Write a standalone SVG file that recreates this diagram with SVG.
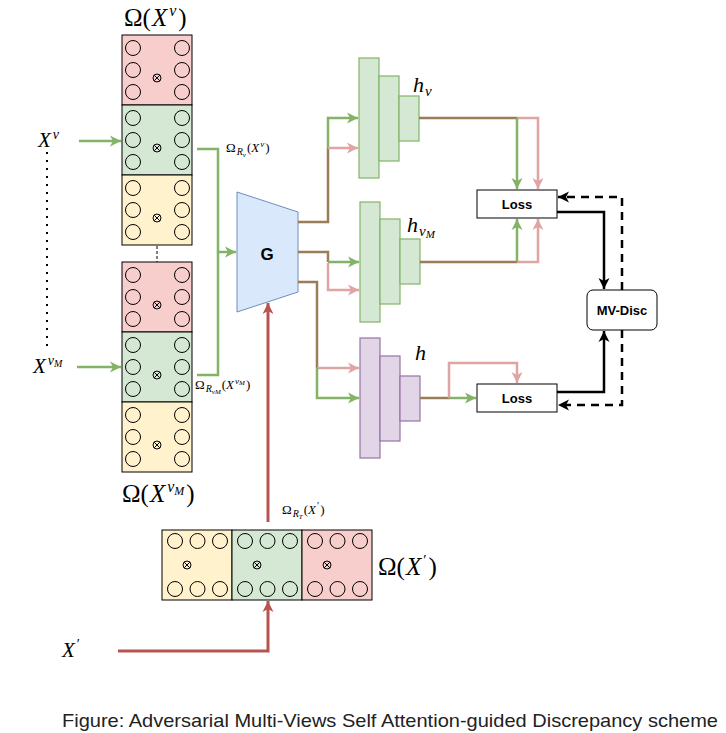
<svg xmlns="http://www.w3.org/2000/svg" xmlns:xlink="http://www.w3.org/1999/xlink" width="726" height="733" viewBox="0 0 726 733">
<style>
.blk{stroke:#000;stroke-width:1}
.red{fill:#f8cecc}.grn{fill:#d5e8d4}.yel{fill:#fff2cc}
.cir circle{fill:none;stroke:#000;stroke-width:1}
.cir path{fill:none;stroke:#000;stroke-width:1}
.lay{fill:#d5e8d4;stroke:#82b366;stroke-width:1.2}
.layp{fill:#e1d5e7;stroke:#9673a6;stroke-width:1.2}
.math{font-family:"Liberation Serif","Times New Roman",serif;fill:#000}
.it{font-style:italic}
.lbl{font-family:"Liberation Sans",Arial,sans-serif;font-weight:bold;fill:#000;text-anchor:middle}
.c{fill:none;stroke-linejoin:miter}
.g{stroke:#82b366;stroke-width:2.5}
.p{stroke:#dea5a4;stroke-width:2.5}
.b{stroke:#9a7d56;stroke-width:2.5}
.r{stroke:#b85450;stroke-width:3}
.k{stroke:#000;stroke-width:2.5}
.kd{stroke:#000;stroke-width:2.5;stroke-dasharray:8 6}
</style>
<defs>
<marker id="ag" markerUnits="userSpaceOnUse" markerWidth="14" markerHeight="12" refX="11" refY="6" orient="auto"><path d="M0,0.5 L11,6 L0,11.5 L3,6 z" fill="#82b366"/></marker>
<marker id="ap" markerUnits="userSpaceOnUse" markerWidth="14" markerHeight="12" refX="11" refY="6" orient="auto"><path d="M0,0.5 L11,6 L0,11.5 L3,6 z" fill="#dea5a4"/></marker>
<marker id="ar" markerUnits="userSpaceOnUse" markerWidth="14" markerHeight="12" refX="11" refY="6" orient="auto"><path d="M0,0.5 L11,6 L0,11.5 L3,6 z" fill="#b85450"/></marker>
<marker id="ak" markerUnits="userSpaceOnUse" markerWidth="14" markerHeight="12" refX="11" refY="6" orient="auto"><path d="M0,0.5 L11,6 L0,11.5 L3,6 z" fill="#000"/></marker>
<g id="ot" class="cir"><circle r="4"/><path d="M-2.8,-2.8L2.8,2.8M-2.8,2.8L2.8,-2.8"/></g>
<g id="vc" class="cir">
<circle cx="11" cy="13" r="7.5"/><circle cx="11" cy="35" r="7.5"/><circle cx="11" cy="57" r="7.5"/>
<circle cx="60" cy="13" r="7.5"/><circle cx="60" cy="35" r="7.5"/><circle cx="60" cy="57" r="7.5"/>
<use xlink:href="#ot" x="35" y="43"/>
</g>
<g id="hc" class="cir">
<circle cx="13" cy="11" r="7.5"/><circle cx="35.5" cy="11" r="7.5"/><circle cx="58" cy="11" r="7.5"/>
<circle cx="13" cy="59" r="7.5"/><circle cx="35.5" cy="59" r="7.5"/><circle cx="58" cy="59" r="7.5"/>
<use xlink:href="#ot" x="25" y="35"/>
</g>
</defs>
<rect width="726" height="733" fill="#fff"/>

<g id="stack-v">
<rect class="blk red" x="122" y="35" width="70" height="70"/><use xlink:href="#vc" x="122" y="35"/>
<rect class="blk grn" x="122" y="105" width="70" height="70"/><use xlink:href="#vc" x="122" y="105"/>
<rect class="blk yel" x="122" y="175" width="70" height="70"/><use xlink:href="#vc" x="122" y="175"/>
<text class="math" x="124" y="26" font-size="25">Ω(<tspan class="it" dx="1">X</tspan><tspan class="it" font-size="16" dx="2" dy="-10">v</tspan><tspan dx="2" dy="10">)</tspan></text>
</g>

<g id="stack-vM">
<rect class="blk red" x="122" y="262" width="70" height="70"/><use xlink:href="#vc" x="122" y="262"/>
<rect class="blk grn" x="122" y="332" width="70" height="70"/><use xlink:href="#vc" x="122" y="332"/>
<rect class="blk yel" x="122" y="402" width="70" height="70"/><use xlink:href="#vc" x="122" y="402"/>
<text class="math" x="122" y="502" font-size="25">Ω(<tspan class="it" dx="1">X</tspan><tspan class="it" font-size="16" dx="2" dy="-10">v</tspan><tspan class="it" font-size="12" dy="3">M</tspan><tspan dx="2" dy="7">)</tspan></text>
</g>

<g id="stack-T">
<rect class="blk yel" x="162" y="530" width="70" height="70"/><use xlink:href="#hc" x="162" y="530"/>
<rect class="blk grn" x="232" y="530" width="70" height="70"/><use xlink:href="#hc" x="232" y="530"/>
<rect class="blk red" x="302" y="530" width="70" height="70"/><use xlink:href="#hc" x="302" y="530"/>
<text class="math" x="378" y="575" font-size="25">Ω(<tspan class="it" dx="1">X</tspan><tspan font-size="15" dx="2" dy="-10">′</tspan><tspan dx="2" dy="10">)</tspan></text>
</g>

<g id="inputs">
<text class="math" x="38" y="147" font-size="21"><tspan class="it">X</tspan><tspan class="it" font-size="14" dx="2" dy="-8">v</tspan></text>
<text class="math" x="33" y="373" font-size="21"><tspan class="it">X</tspan><tspan class="it" font-size="14" dx="2" dy="-8">v</tspan><tspan class="it" font-size="10" dy="2">M</tspan></text>
<text class="math" x="62" y="657" font-size="21"><tspan class="it">X</tspan><tspan font-size="14" dx="2" dy="-8">′</tspan></text>
</g>

<g id="G">
<polygon points="237,192 298,212 298,292 237,312" fill="#dae8fc" stroke="#6c8ebf" stroke-width="1"/>
<text class="lbl" x="267" y="260" font-size="17">G</text>
</g>

<g id="h-v">
<rect class="lay" x="359" y="58" width="20" height="120"/>
<rect class="lay" x="379" y="76" width="20" height="85"/>
<rect class="lay" x="399" y="96" width="20" height="45"/>
<text class="math it" x="413" y="92" font-size="22">h<tspan font-size="15" dx="1" dy="4">v</tspan></text>
</g>

<g id="h-vM">
<rect class="lay" x="360" y="202" width="20" height="120"/>
<rect class="lay" x="380" y="219" width="20" height="85"/>
<rect class="lay" x="400" y="239" width="20" height="45"/>
<text class="math it" x="407" y="232" font-size="22">h<tspan font-size="15" dx="1" dy="4">v</tspan><tspan font-size="11" dy="2">M</tspan></text>
</g>

<g id="h">
<rect class="layp" x="360" y="338" width="20" height="120"/>
<rect class="layp" x="380" y="356" width="20" height="85"/>
<rect class="layp" x="400" y="376" width="20" height="45"/>
<text class="math it" x="415" y="360" font-size="22">h</text>
</g>

<g id="loss1">
<rect x="477" y="190" width="80" height="28" fill="#fff" stroke="#000" stroke-width="1"/>
<text class="lbl" x="517" y="209" font-size="13">Loss</text>
</g>
<g id="loss2">
<rect x="477" y="384" width="80" height="28" fill="#fff" stroke="#000" stroke-width="1"/>
<text class="lbl" x="517" y="403" font-size="13">Loss</text>
</g>
<g id="mvdisc">
<rect x="587" y="290" width="70" height="40" rx="6" fill="#fff" stroke="#000" stroke-width="1"/>
<text class="lbl" x="622" y="315" font-size="13">MV-Disc</text>
</g>

<g id="connectors">
<path class="c" d="M47,152 V352" stroke="#000" stroke-width="2" stroke-dasharray="2 6"/>
<path class="c" d="M157,246 V262" stroke="#000" stroke-width="1" stroke-dasharray="3 2"/>
<path class="c g" d="M79,141 H121" marker-end="url(#ag)"/>
<path class="c g" d="M77,367 H121" marker-end="url(#ag)"/>
<path class="c g" d="M197,149 H218 V252 H236" marker-end="url(#ag)"/>
<path class="c g" d="M197,375 H218 V252"/>
<path class="c b" d="M298,222 H328 V148"/>
<path class="c b" d="M298,252 H328 V262"/>
<path class="c b" d="M298,282 H317 V368"/>
<path class="c g" d="M328,149 V118 H358" marker-end="url(#ag)"/>
<path class="c p" d="M328,148 H358" marker-end="url(#ap)"/>
<path class="c g" d="M328,262 H359" marker-end="url(#ag)"/>
<path class="c p" d="M328,263 V290 H359" marker-end="url(#ap)"/>
<path class="c p" d="M317,368 H359" marker-end="url(#ap)"/>
<path class="c g" d="M317,368 V398 H359" marker-end="url(#ag)"/>
<path class="c b" d="M419,118 H517"/>
<path class="c b" d="M420,262 H517"/>
<path class="c b" d="M420,398 H449"/>
<path class="c p" d="M517,118 H538 V189" marker-end="url(#ap)"/>
<path class="c g" d="M517,118 V189" marker-end="url(#ag)"/>
<path class="c p" d="M517,262 H538 V219" marker-end="url(#ap)"/>
<path class="c g" d="M517,262 V219" marker-end="url(#ag)"/>
<path class="c p" d="M449,398 V363 H517 V383" marker-end="url(#ap)"/>
<path class="c g" d="M449,398 H476" marker-end="url(#ag)"/>
<path class="c r" d="M118,651 H268 V601" marker-end="url(#ar)"/>
<path class="c r" d="M268,522 V303" marker-end="url(#ar)"/>
<path class="c k" d="M557,212 H604 V289" marker-end="url(#ak)"/>
<path class="c k" d="M557,392 H604 V331" marker-end="url(#ak)"/>
<path class="c kd" d="M622,290 V197 H558" marker-end="url(#ak)"/>
<path class="c kd" d="M622,330 V405 H558" marker-end="url(#ak)"/>
</g>

<g id="edge-labels">
<text class="math" x="226" y="152" font-size="13">Ω<tspan class="it" font-size="10" dx="1" dy="3">R</tspan><tspan class="it" font-size="7" dy="2">v</tspan><tspan dx="1" dy="-5">(</tspan><tspan class="it">X</tspan><tspan class="it" font-size="9" dx="1" dy="-5">v</tspan><tspan dx="1" dy="5">)</tspan></text>
<text class="math" x="195" y="389" font-size="13">Ω<tspan class="it" font-size="10" dx="1" dy="3">R</tspan><tspan class="it" font-size="7" dy="2">vM</tspan><tspan dx="1" dy="-5">(</tspan><tspan class="it">X</tspan><tspan class="it" font-size="9" dx="1" dy="-5">v</tspan><tspan class="it" font-size="7" dy="1">M</tspan><tspan dx="1" dy="4">)</tspan></text>
<text class="math" x="282" y="514" font-size="13">Ω<tspan class="it" font-size="10" dx="1" dy="3">R</tspan><tspan class="it" font-size="7" dy="2">T</tspan><tspan dx="1" dy="-5">(</tspan><tspan class="it">X</tspan><tspan font-size="10" dx="1" dy="-5">′</tspan><tspan dx="1" dy="5">)</tspan></text>
</g>

<text x="62" y="727" font-family="'Liberation Sans',Arial,sans-serif" font-size="19" fill="#222" textLength="656" lengthAdjust="spacingAndGlyphs">Figure: Adversarial Multi-Views Self Attention-guided Discrepancy scheme</text>
</svg>
